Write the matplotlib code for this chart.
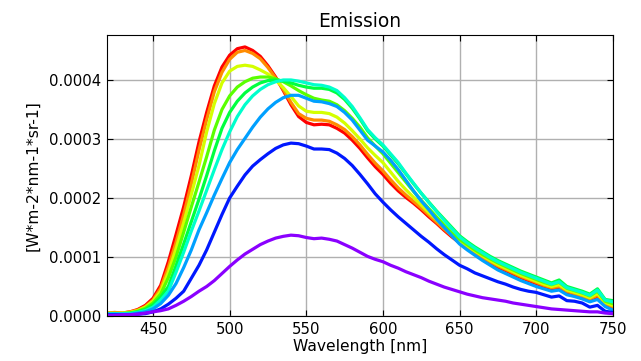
import numpy as np
import matplotlib
matplotlib.use("Agg")
import matplotlib.pyplot as plt
from matplotlib.ticker import FormatStrFormatter

wavelength = list(range(420, 751, 5))

# values in units of 1e-4 W m-2 nm-1 sr-1
red_e4 = [0.05, 0.06, 0.05, 0.07, 0.11, 0.18, 0.30, 0.52, 0.92, 1.38, 1.85, 2.38, 2.95, 3.45, 3.90, 4.22,
          4.42, 4.53, 4.56, 4.50, 4.40, 4.24, 4.05, 3.82, 3.58, 3.38, 3.28, 3.24, 3.25, 3.24, 3.18, 3.10,
          2.98, 2.84, 2.68, 2.53, 2.40, 2.25, 2.12, 2.01, 1.91, 1.80, 1.68, 1.57, 1.45, 1.34, 1.24, 1.14,
          1.05, 0.97, 0.90, 0.83, 0.77, 0.71, 0.65, 0.60, 0.55, 0.50, 0.46, 0.48, 0.40, 0.36, 0.33, 0.28,
          0.33, 0.20, 0.15]
orange_e4 = [0.05, 0.05, 0.05, 0.07, 0.10, 0.16, 0.27, 0.47, 0.83, 1.25, 1.72, 2.24, 2.81, 3.33, 3.80, 4.13,
             4.35, 4.47, 4.50, 4.45, 4.36, 4.21, 4.03, 3.84, 3.62, 3.43, 3.35, 3.32, 3.32, 3.30, 3.24, 3.16,
             3.04, 2.90, 2.74, 2.59, 2.46, 2.31, 2.17, 2.05, 1.94, 1.83, 1.71, 1.59, 1.47, 1.36, 1.26, 1.16,
             1.07, 0.99, 0.92, 0.85, 0.79, 0.73, 0.67, 0.62, 0.57, 0.52, 0.48, 0.50, 0.42, 0.38, 0.34, 0.29,
             0.35, 0.21, 0.16]
yellow_e4 = [0.05, 0.05, 0.05, 0.06, 0.09, 0.15, 0.25, 0.42, 0.74, 1.14, 1.58, 2.06, 2.55, 3.12, 3.60, 3.95,
             4.15, 4.23, 4.25, 4.23, 4.17, 4.10, 4.00, 3.87, 3.72, 3.56, 3.47, 3.45, 3.45, 3.43, 3.37, 3.27,
             3.14, 3.00, 2.85, 2.72, 2.60, 2.44, 2.28, 2.14, 2.01, 1.88, 1.75, 1.63, 1.51, 1.39, 1.28, 1.19,
             1.10, 1.02, 0.94, 0.87, 0.81, 0.75, 0.69, 0.64, 0.59, 0.54, 0.50, 0.53, 0.44, 0.40, 0.36, 0.31,
             0.38, 0.23, 0.18]
lime_e4 = [0.04, 0.04, 0.04, 0.05, 0.08, 0.13, 0.22, 0.37, 0.65, 1.00, 1.42, 1.85, 2.27, 2.70, 3.15, 3.50,
           3.73, 3.88, 3.97, 4.03, 4.05, 4.05, 4.02, 3.97, 3.90, 3.82, 3.75, 3.69, 3.66, 3.64, 3.58, 3.48,
           3.35, 3.20, 3.02, 2.88, 2.75, 2.59, 2.43, 2.27, 2.11, 1.96, 1.82, 1.68, 1.54, 1.41, 1.30, 1.21,
           1.12, 1.04, 0.97, 0.90, 0.84, 0.78, 0.72, 0.67, 0.62, 0.57, 0.53, 0.57, 0.47, 0.43, 0.39, 0.34,
           0.42, 0.25, 0.21]
green_e4 = [0.04, 0.04, 0.04, 0.05, 0.07, 0.11, 0.19, 0.32, 0.50, 0.85, 1.22, 1.60, 1.98, 2.38, 2.80, 3.18,
            3.45, 3.64, 3.78, 3.88, 3.95, 3.99, 4.00, 3.98, 3.95, 3.91, 3.88, 3.86, 3.86, 3.84, 3.78, 3.67,
            3.52, 3.34, 3.14, 3.00, 2.88, 2.73, 2.58, 2.41, 2.24, 2.08, 1.93, 1.78, 1.64, 1.50, 1.36, 1.26,
            1.17, 1.09, 1.01, 0.94, 0.88, 0.82, 0.76, 0.71, 0.66, 0.61, 0.56, 0.61, 0.50, 0.46, 0.42, 0.37,
            0.46, 0.28, 0.26]
cyan_e4 = [0.04, 0.04, 0.04, 0.04, 0.06, 0.09, 0.15, 0.27, 0.42, 0.74, 1.08, 1.44, 1.78, 2.13, 2.48, 2.82,
           3.12, 3.38, 3.58, 3.73, 3.84, 3.92, 3.97, 4.00, 4.00, 3.98, 3.95, 3.92, 3.91, 3.88, 3.82, 3.70,
           3.55, 3.36, 3.16, 3.02, 2.90, 2.75, 2.60, 2.42, 2.25, 2.08, 1.92, 1.77, 1.62, 1.48, 1.34, 1.24,
           1.15, 1.07, 0.99, 0.92, 0.86, 0.80, 0.74, 0.69, 0.64, 0.59, 0.54, 0.58, 0.48, 0.44, 0.40, 0.35,
           0.44, 0.27, 0.24]
skyblue_e4 = [0.03, 0.03, 0.03, 0.03, 0.05, 0.07, 0.12, 0.21, 0.35, 0.55, 0.82, 1.12, 1.46, 1.75, 2.05, 2.33,
              2.60, 2.82, 3.01, 3.20, 3.37, 3.51, 3.62, 3.70, 3.74, 3.74, 3.69, 3.64, 3.63, 3.60, 3.55, 3.45,
              3.32, 3.15, 2.98, 2.88, 2.78, 2.64, 2.48, 2.30, 2.12, 1.95, 1.80, 1.64, 1.50, 1.36, 1.22, 1.12,
              1.03, 0.94, 0.86, 0.78, 0.72, 0.66, 0.60, 0.55, 0.50, 0.46, 0.42, 0.44, 0.36, 0.33, 0.29, 0.24,
              0.28, 0.16, 0.10]
blue_e4 = [0.02, 0.02, 0.02, 0.02, 0.03, 0.04, 0.07, 0.12, 0.20, 0.30, 0.42, 0.64, 0.86, 1.12, 1.42, 1.72,
           2.00, 2.20, 2.39, 2.54, 2.65, 2.75, 2.84, 2.90, 2.93, 2.92, 2.88, 2.83, 2.83, 2.82, 2.76, 2.67,
           2.55, 2.40, 2.24, 2.07, 1.93, 1.80, 1.68, 1.57, 1.46, 1.35, 1.25, 1.14, 1.04, 0.95, 0.86, 0.80,
           0.73, 0.68, 0.63, 0.58, 0.54, 0.49, 0.45, 0.42, 0.40, 0.36, 0.32, 0.34, 0.26, 0.25, 0.22, 0.15,
           0.18, 0.08, 0.06]
purple_e4 = [0.01, 0.01, 0.02, 0.02, 0.03, 0.05, 0.07, 0.09, 0.12, 0.18, 0.25, 0.33, 0.42, 0.50, 0.60, 0.72,
             0.84, 0.95, 1.05, 1.13, 1.21, 1.27, 1.32, 1.35, 1.37, 1.36, 1.33, 1.31, 1.32, 1.30, 1.27, 1.21,
             1.15, 1.08, 1.01, 0.96, 0.92, 0.86, 0.81, 0.75, 0.70, 0.65, 0.59, 0.54, 0.49, 0.45, 0.41, 0.37,
             0.34, 0.31, 0.29, 0.27, 0.25, 0.22, 0.20, 0.18, 0.16, 0.14, 0.12, 0.11, 0.10, 0.09, 0.08, 0.07,
             0.07, 0.05, 0.04]

series = [red_e4, orange_e4, yellow_e4, lime_e4, green_e4, cyan_e4, skyblue_e4, blue_e4, purple_e4]
colors = ["#ff0000", "#ff8c00", "#d4ff00", "#5aff00", "#00ff40", "#00ffcc", "#00a0ff", "#0018ff", "#8a00ff"]

x_ticks = [450, 500, 550, 600, 650, 700, 750]
y_ticks = [0.0, 0.0001, 0.0002, 0.0003, 0.0004]

fig = plt.figure(figsize=(6.41, 3.61), dpi=100)
ax = fig.add_axes([0.167, 0.1247, 0.789, 0.778])

wl = np.array(wavelength)
for vals, c in zip(series, colors):
    ax.plot(wl, np.array(vals) * 1e-4, color=c, lw=2.3, solid_capstyle="round")

ax.set_xlim(420, 750)
ax.set_ylim(0, 0.000476)
ax.set_xticks(x_ticks)
ax.set_yticks(y_ticks)
ax.yaxis.set_major_formatter(FormatStrFormatter("%.4f"))
ax.grid(True, color="#b0b0b0", lw=1)
ax.set_axisbelow(True)
ax.tick_params(direction="in", top=True, right=True, labelsize=10.7, length=4, pad=4)
ax.set_xlabel("Wavelength [nm]", fontsize=11.2, labelpad=2)
ax.set_ylabel("[W*m-2*nm-1*sr-1]", fontsize=11.2, labelpad=6)
ax.set_title("Emission", fontsize=13.4, pad=6)

fig.savefig("out.png", dpi=100)
